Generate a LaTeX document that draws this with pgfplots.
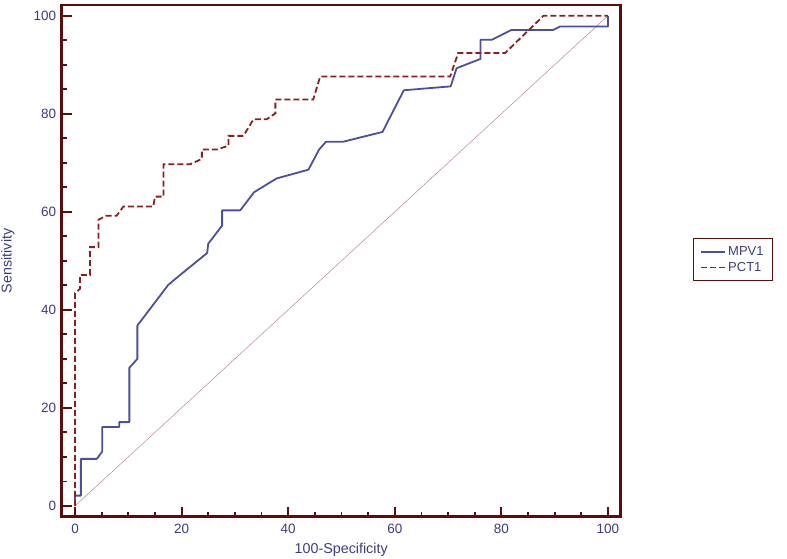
\documentclass[border=0pt]{standalone}
\usepackage{fontspec}
\setmainfont{Liberation Sans}
\usepackage{pgfplots}
\pgfplotsset{compat=1.18}

\definecolor{frame}{HTML}{5E0B0B}
\definecolor{mpv}{HTML}{4B4F9C}
\definecolor{pct}{HTML}{8B1F1F}
\definecolor{diag}{HTML}{B88A8A}
\definecolor{lbl}{HTML}{3C3C82}

\begin{document}
\begin{tikzpicture}[x=1pt,y=1pt]
\useasboundingbox (0,0) rectangle (787,559);
\begin{axis}[
    at={(61.7pt,42.3pt)}, anchor=south west,
    scale only axis,
    width=559pt, height=511.7pt,
    xmin=-2.5, xmax=102.4,
    ymin=-2.2, ymax=102.2,
    xtick={0,20,...,100}, ytick={0,20,...,100},
    minor x tick num=3, minor y tick num=3,
    tick pos=left, tick align=inside,
    major tick length=10pt, minor tick length=5pt,
    every tick/.style={frame, line width=1.8pt},
    axis line style={frame, line width=2.6pt},
    ticklabel style={lbl, font=\fontsize{13.5}{15}\selectfont},
    xticklabel style={yshift=-4pt},
    yticklabel style={xshift=-2pt},
    /pgf/number format/assume math mode=true,
    xlabel={100-Specificity}, ylabel={Sensitivity},
    xlabel style={lbl, font=\fontsize{14.3}{16}\selectfont,
        at={(axis description cs:0.5,-0.065)}, anchor=center},
    ylabel style={lbl, font=\fontsize{14.3}{16}\selectfont,
        at={(axis description cs:-0.096,0.5)}, anchor=center},
    legend style={at={(1.129,0.502)}, anchor=west, draw=frame, line width=1.2pt,
        font=\fontsize{13}{15}\selectfont, text=lbl,
        inner xsep=7pt, inner ysep=6pt, row sep=1pt},
    legend cell align=left,
    legend image code/.code={\draw[#1] (0pt,0pt) -- (24pt,0pt);},
]
\addplot[diag, line width=0.5pt, forget plot] coordinates {(0,0)(100,100)};

\addplot[mpv, line width=1.8pt, line join=round] coordinates {
(0,0)(0,2.1)(1.1,2.1)(1.1,9.6)(4.1,9.6)(5.1,11.1)(5.1,16.1)(8.3,16.1)
(8.3,17.1)(10.2,17.1)(10.2,28.2)(11.7,30)(11.7,36.8)(17.5,45.1)(19.7,47.1)
(24.8,51.6)(25.0,53.5)(27.6,57.2)(27.6,60.3)(31.0,60.3)(33.6,64.0)
(37.8,66.8)(43.8,68.6)(45.8,72.7)(47.1,74.3)(50.3,74.3)(57.7,76.3)
(61.7,84.8)(70.5,85.6)(71.6,89.3)(76.1,91.2)(76.1,95.1)(78.2,95.1)
(81.9,97.1)(89.7,97.1)(91.0,97.8)(100,97.8)(100,100)
};
\addlegendentry{MPV1}

\addplot[pct, line width=1.8pt, dash pattern=on 6pt off 3pt] coordinates {
(0,0)(0,43.4)(0.94,44.3)(0.94,47.1)(2.8,47.1)(2.8,52.8)(4.4,52.8)
(4.4,58.4)(5.9,59.2)(7.8,59.2)(9.1,61.1)(14.7,61.1)(15.0,63.1)(16.6,63.1)
(16.6,69.7)(21.6,69.7)(23.8,70.8)(23.8,72.7)(26.6,72.7)(28.8,73.5)
(28.8,75.5)(31.6,75.5)(33.5,78.9)(36.0,78.9)(37.6,80.1)(37.6,82.9)
(44.7,82.9)(46.0,87.6)(70.4,87.6)(71.9,92.4)(80.7,92.4)(87.9,100)(100,100)
};
\addlegendentry{PCT1}
\end{axis}
\end{tikzpicture}
\end{document}
